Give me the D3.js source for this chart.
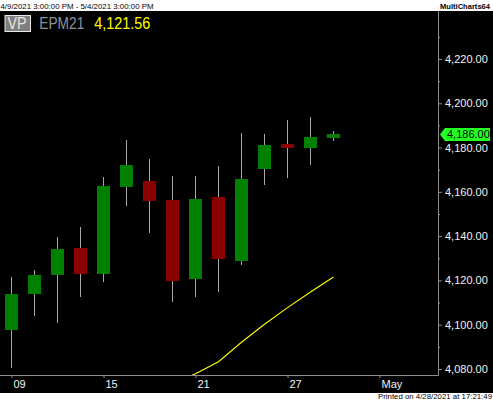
<!DOCTYPE html>
<html>
<head>
<meta charset="utf-8">
<script src="https://cdn.jsdelivr.net/npm/d3@7"></script>
<style>
html,body{margin:0;padding:0;background:#fff;}
svg{display:block;}
text{font-family:Arial,"Liberation Sans",sans-serif;}
</style>
</head>
<body>
<svg id="chart" width="493" height="402"></svg>
<script>
// ---- data ----
const days = ["04-09","04-12","04-13","04-14","04-15","04-16","04-19","04-20","04-21","04-22","04-23","04-26","04-27","04-28","04-29","04-30","05-03","05-04","05-05"];
const candleDays = ["04-09","04-12","04-13","04-14","04-15","04-16","04-19","04-20","04-21","04-22","04-23","04-26","04-27","04-28","04-29"];
const openVals  = [4097.6,4113.9,4122.5,4134.7,4122.9,4162.2,4164.9,4156.3,4120.6,4157.7,4128.8,4170.3,4181.6,4179.8,4184.3];
const highVals  = [4121.5,4124.7,4139.6,4144.1,4166.7,4183.4,4174.8,4167.2,4167.2,4171.7,4186.6,4186.1,4192.5,4193.8,4187.5];
const lowVals   = [4080.6,4104.1,4100.9,4112.7,4119.3,4153.6,4141.4,4110.3,4112.5,4114.8,4127.0,4163.1,4166.3,4172.1,4183.0];
const closeVals = [4113.9,4122.5,4134.2,4122.9,4162.7,4172.1,4155.9,4119.7,4156.8,4129.7,4165.8,4181.2,4179.8,4184.8,4186.0];
const lineDays  = ["04-20","04-21","04-22","04-23","04-26","04-27","04-28","04-29"];
const lineVals  = [4073.0,4077.9,4083.3,4092.1,4100.2,4107.7,4114.8,4121.56];
const xTickDays   = ["04-09","04-15","04-21","04-27","05-03"];
const xTickLabels = ["09","15","21","27","May"];
const yMajorTicks = [4080,4100,4120,4140,4160,4180,4200,4220,4240];
const yMinorTicks = [4090,4110,4130,4150,4170,4190,4210,4230];
const lastPrice = 4186.00;
const symbol = "EPM21";
const headerValue = "4,121.56";
const rangeText = "4/9/2021 3:00:00 PM - 5/4/2021 3:00:00 PM";
const printedText = "Printed on 4/28/2021 at 17:21:49";

// ---- layout ----
const W = 493, H = 402;
const plotTop = 11, plotBottom = 375, plotRight = 438, blackBottom = 393;
const svg = d3.select("#chart");

svg.append("rect").attr("x",0).attr("y",0).attr("width",W).attr("height",H).attr("fill","#fff");
svg.append("rect").attr("x",0).attr("y",plotTop).attr("width",W).attr("height",blackBottom-plotTop).attr("fill","#000");

const x = d3.scaleBand().domain(days).range([0,437]).paddingInner(10/23).paddingOuter(5/23);
const y = d3.scaleLinear().domain([4080,4220]).range([369,59]);
const cx = d => x(d) + x.bandwidth()/2;

svg.append("defs").append("clipPath").attr("id","plotclip")
  .append("rect").attr("x",0).attr("y",plotTop).attr("width",plotRight).attr("height",plotBottom-plotTop);

const plot = svg.append("g").attr("clip-path","url(#plotclip)");

const candles = candleDays.map((d,i)=>({d,o:openVals[i],h:highVals[i],l:lowVals[i],c:closeVals[i]}));

// wicks
plot.selectAll("line.wick").data(candles).join("line").attr("class","wick")
  .attr("x1",d=>cx(d.d)).attr("x2",d=>cx(d.d))
  .attr("y1",d=>Math.round(y(d.h))).attr("y2",d=>Math.round(y(d.l)))
  .attr("stroke","#a8a8a8").attr("stroke-width",1);

// bodies
plot.selectAll("rect.body").data(candles).join("rect").attr("class","body")
  .attr("x",d=>x(d.d)).attr("width",x.bandwidth())
  .attr("y",d=>Math.round(y(Math.max(d.o,d.c))))
  .attr("height",d=>Math.max(1,Math.round(y(Math.min(d.o,d.c)))-Math.round(y(Math.max(d.o,d.c)))))
  .attr("fill",d=>d.c>=d.o?"#008000":"#8b0000");

// yellow line
const lineData = lineDays.map((d,i)=>({d,v:lineVals[i]}));
plot.append("path").datum(lineData)
  .attr("d",d3.line().x(d=>cx(d.d)).y(d=>y(d.v)))
  .attr("fill","none").attr("stroke","#ffff00").attr("stroke-width",1.1);

// axes lines
const axisColor = "#8c8c8c";
svg.append("line").attr("x1",0).attr("x2",plotRight+0.5).attr("y1",plotBottom+0.5).attr("y2",plotBottom+0.5)
  .attr("stroke",axisColor);
svg.append("line").attr("x1",plotRight+0.5).attr("x2",plotRight+0.5).attr("y1",plotTop).attr("y2",plotBottom+0.5)
  .attr("stroke",axisColor);

// y axis
const yAxisMajor = d3.axisRight(y).tickValues(yMajorTicks).tickSize(4).tickPadding(3)
  .tickFormat(d3.format(",.2f"));
const gy = svg.append("g").attr("transform",`translate(${plotRight},0)`).call(yAxisMajor);
gy.select(".domain").remove();
gy.selectAll(".tick line").attr("stroke",axisColor);
gy.selectAll(".tick text").attr("fill","#f2f2f2").attr("font-size","11px")
  .attr("font-family","Arial, 'Liberation Sans', sans-serif");
gy.selectAll(".tick").filter(d=>y(d)<plotTop+4).remove();

const yAxisMinor = d3.axisRight(y).tickValues(yMinorTicks).tickSize(2).tickFormat("");
const gym = svg.append("g").attr("transform",`translate(${plotRight},0)`).call(yAxisMinor);
gym.select(".domain").remove();
gym.selectAll(".tick line").attr("stroke",axisColor);
gym.selectAll(".tick").filter(d=>y(d)<plotTop+2).remove();

// x axis
const xAxis = d3.axisBottom(d3.scalePoint().domain(days).range([cx(days[0]),cx(days[days.length-1])]))
  .tickValues(xTickDays).tickSize(3).tickFormat((d)=>xTickLabels[xTickDays.indexOf(d)]);
const gx = svg.append("g").attr("transform",`translate(0,${plotBottom})`).call(xAxis);
gx.select(".domain").remove();
gx.selectAll(".tick line").attr("stroke",axisColor);
gx.selectAll(".tick text").attr("fill","#f2f2f2").attr("font-size","11px")
  .attr("font-family","Arial, 'Liberation Sans', sans-serif")
  .attr("text-anchor","start").attr("x",1.5).attr("y",5).attr("dy","0.71em");

// last price marker
const yc = Math.round(y(lastPrice)) + 0.5;
svg.append("path")
  .attr("d",`M440,${yc} L445,${yc-6.5} L490,${yc-6.5} L490,${yc+6.5} L445,${yc+6.5} Z`)
  .attr("fill","#22ff22");
svg.append("text").attr("x",447).attr("y",yc).attr("dy","0.36em")
  .attr("font-size","11px").attr("fill","#000").text(d3.format(",.2f")(lastPrice));

// header
svg.append("text").attr("x",0.5).attr("y",9).attr("font-size","8px").attr("fill","#000")
  .attr("textLength",153).attr("lengthAdjust","spacingAndGlyphs").text(rangeText);
svg.append("text").attr("x",490).attr("y",9).attr("font-size","8px").attr("font-weight","bold")
  .attr("fill","#000").attr("text-anchor","end")
  .attr("textLength",50).attr("lengthAdjust","spacingAndGlyphs").text("MultiCharts64");

// VP box + title
svg.append("rect").attr("x",5).attr("y",15.5).attr("width",25.5).attr("height",16)
  .attr("fill","#7f7f7f").attr("stroke","#e8e8e8").attr("stroke-width",1);
svg.append("text").attr("x",7.5).attr("y",29.3).attr("font-size","16px").attr("fill","#e6e6e6")
  .attr("textLength",19).attr("lengthAdjust","spacingAndGlyphs").text("VP");
svg.append("text").attr("x",39.3).attr("y",29.3).attr("font-size","16px").attr("fill","#8c949c")
  .attr("textLength",45).attr("lengthAdjust","spacingAndGlyphs").text(symbol);
svg.append("text").attr("x",94.3).attr("y",29.3).attr("font-size","16px").attr("fill","#ffff00")
  .attr("textLength",56).attr("lengthAdjust","spacingAndGlyphs").text(headerValue);

// footer
svg.append("text").attr("x",492).attr("y",399.3).attr("font-size","7.5px").attr("fill","#000")
  .attr("text-anchor","end").attr("textLength",114).attr("lengthAdjust","spacingAndGlyphs").text(printedText);
</script>
</body>
</html>
